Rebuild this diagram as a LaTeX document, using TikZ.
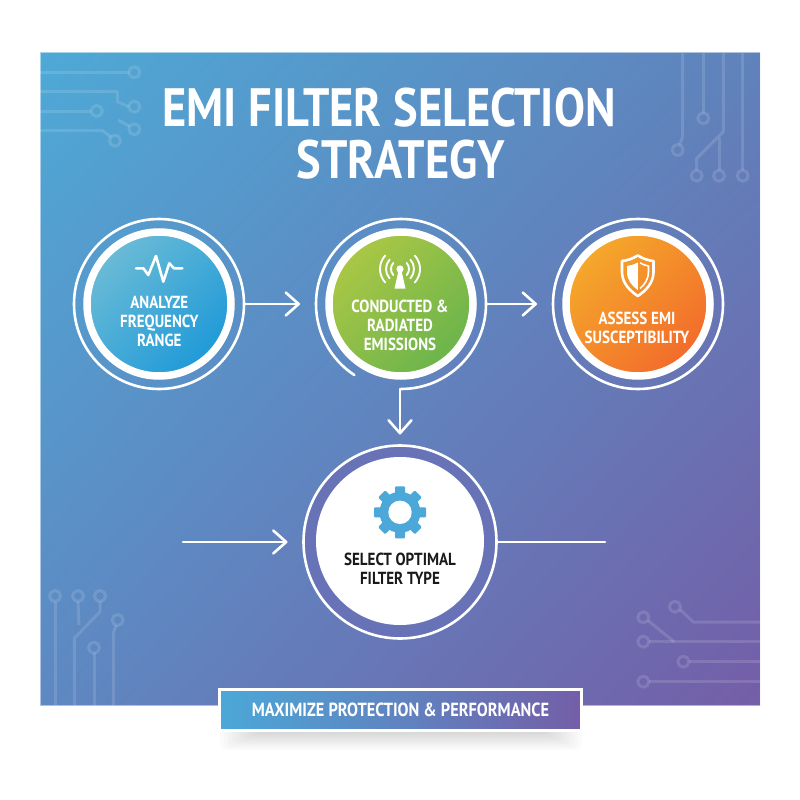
\documentclass[tikz,border=0pt]{standalone}
\usepackage{fontspec}
\setmainfont{PT Sans}[FakeStretch=0.86]
\usepackage{tikz}
\usetikzlibrary{arrows.meta, positioning, calc, shadings}
\definecolor{panelTL}{RGB}{78, 169, 214}
\definecolor{panelTR}{RGB}{96, 130, 187}
\definecolor{panelBL}{RGB}{94, 136, 193}
\definecolor{panelBR}{RGB}{116, 94, 168}
\definecolor{bandblue}{RGB}{103, 115, 182}
\definecolor{gearblue}{RGB}{75, 168, 216}
\definecolor{skylight}{RGB}{107, 187, 214}
\definecolor{skydeep}{RGB}{31, 154, 216}
\definecolor{greenlight}{RGB}{171, 199, 69}
\definecolor{greendeep}{RGB}{107, 180, 76}
\definecolor{orangelight}{RGB}{245, 169, 43}
\definecolor{orangedeep}{RGB}{242, 107, 43}
\tikzset{
  ringnode/.style={circle, inner sep=0pt, outer sep=0pt, minimum size=170pt, draw=white, line width=2.6pt},
  disknode/.style={circle, inner sep=0pt, outer sep=0pt, minimum size=144pt, draw=white, line width=7.5pt},
  steplabel/.style={align=center, text=white, font=\bfseries\fontsize{17.5}{19}\selectfont},
  flowline/.style={draw=white, line width=2.6pt, line cap=round},
  flowarrow/.style={flowline, -{Straight Barb[length=13pt, width=23pt, round]}},
  trace/.style={draw=white, draw opacity=0.13, line width=3pt, line join=round},
}

\begin{document}
\begin{tikzpicture}[x=1pt, y=-1pt]
  \useasboundingbox (0,0) rectangle (800,800);
  \fill[white] (0,0) rectangle (800,800);

  % Panel
  \shade[upper left=panelTL, upper right=panelTR, lower left=panelBL, lower right=panelBR]
    (40,53) rectangle (760,705);
  \draw[white, opacity=0.5, line width=1pt] (40,53) rectangle (760,705);

  % Traces, top left
  \draw[trace] (40,72.3) -- (128.8,72.3);
  \draw[trace] (134.3,72.3) circle[radius=5.5pt];
  \draw[trace] (40,91.7) -- (117.3,91.7) -- (117.3,101.7) -- (128.8,106.7);
  \draw[trace] (134.3,106.7) circle[radius=5.5pt];
  \draw[trace] (40,111) -- (91.2,111);
  \draw[trace] (96.7,111) circle[radius=5.5pt];
  \draw[trace] (40,130.7) -- (102.7,130.7) -- (111,137);
  \draw[trace] (115,140.7) circle[radius=5.5pt];
  \draw[trace] (118.3,120) -- (129.5,126.5);
  \draw[trace] (134.3,129.3) circle[radius=5.5pt];

  % Traces, top right
  \draw[trace] (682.7,53) -- (682.7,136.7) -- (679.5,144.7);
  \draw[trace] (677.7,150) circle[radius=5.5pt];
  \draw[trace] (703.3,53) -- (703.3,112.8);
  \draw[trace] (703.3,118.3) circle[radius=5.5pt];
  \draw[trace] (723.3,53) -- (723.3,131.7) -- (696.7,158.3) -- (696.7,170.2);
  \draw[trace] (696.7,175.7) circle[radius=5.5pt];
  \draw[trace] (719,138) -- (719,170.2);
  \draw[trace] (719,175.7) circle[radius=5.5pt];
  \draw[trace] (742.7,53) -- (742.7,170.2);
  \draw[trace] (742.7,175.7) circle[radius=5.5pt];

  % Traces, bottom left
  \draw[trace] (55,596) circle[radius=5.5pt];
  \draw[trace] (55,601.5) -- (55,705);
  \draw[trace] (78,596) circle[radius=5.5pt];
  \draw[trace] (78,601.5) -- (79,625);
  \draw[trace] (100,596) circle[radius=5.5pt];
  \draw[trace] (100,601.5) -- (100,611.7) -- (74.3,638.3) -- (74.3,705);
  \draw[trace] (117.7,620) circle[radius=5.5pt];
  \draw[trace] (116,625.3) -- (113.3,633.3) -- (113.3,705);
  \draw[trace] (94,647.7) circle[radius=5.5pt];
  \draw[trace] (94,653.2) -- (94,705);

  % Traces, bottom right
  \draw[trace] (675,606.7) circle[radius=5.5pt];
  \draw[trace] (680,609.5) -- (693.3,622) -- (760,622);
  \draw[trace] (643.3,617.3) circle[radius=5.5pt];
  \draw[trace] (648,620.5) -- (674,641.7);
  \draw[trace] (643.3,641.7) circle[radius=5.5pt];
  \draw[trace] (648.8,641.7) -- (760,641.7);
  \draw[trace] (683.3,661.7) circle[radius=5.5pt];
  \draw[trace] (688.8,661.7) -- (760,661.7);
  \draw[trace] (643.3,681.7) circle[radius=5.5pt];
  \draw[trace] (648.8,681.7) -- (760,681.7);

  % Title
  \node[text=white, font=\bfseries\fontsize{54}{54}\selectfont, anchor=base] (titleone) at (389,126) {EMI FILTER SELECTION};
  \node[text=white, font=\bfseries\fontsize{54}{54}\selectfont, anchor=base] (titletwo) at (401,178) {STRATEGY};

  % Rings
  \node[ringnode] (analyzering) at (159,304) {};
  \node[ringnode, draw=none] (conductedring) at (401,304) {};
  \node[ringnode] (assessring) at (638,304) {};
  \node[ringnode, minimum size=193pt, fill=bandblue] (selectring) at (400,542) {};
  \draw[flowline] (conductedring.south) arc[start angle=-90, end angle=236.7, radius=85pt];

  % Disks
  \node[disknode, top color=skylight, bottom color=skydeep, shading angle=45] (analyze) at (analyzering) {};
  \node[disknode, top color=greenlight, bottom color=greendeep, shading angle=45] (conducted) at (conductedring) {};
  \node[disknode, top color=orangelight, bottom color=orangedeep, shading angle=45] (assess) at (assessring) {};
  \node[circle, inner sep=0pt, outer sep=0pt, minimum size=168pt, fill=white] (select) at (400,541) {};

  % Labels inside
  \node[steplabel] (analyzetext) at (159.3,321) {ANALYZE\\FREQUENCY\\RANGE};
  \node[steplabel] (conductedtext) at (400,325.5) {CONDUCTED \&\\RADIATED\\EMISSIONS};
  \node[steplabel] (assesstext) at (637,328) {ASSESS EMI\\SUSCEPTIBILITY};
  \node[steplabel, text=black!90] (selecttext) at (400,569) {SELECT OPTIMAL\\FILTER TYPE};

  % Pulse icon
  \draw[flowline, line join=round] (136,268.3) -- (143.3,268.3) -- (148.3,275) -- (156,256) -- (163.3,281.7) -- (169.3,263.3) -- (174,268.3) -- (182.3,268.3);

  % Antenna icon
  \coordinate (tower) at (400,269);
  \fill[white] (tower) circle[radius=3.6pt];
  \fill[white] (398.2,272) -- (394.5,288.5) -- (405.5,288.5) -- (401.8,272) -- cycle;
  \foreach \r in {9,14,20}{
    \draw[flowline, line width=1.9pt] (tower) ++(42:\r pt) arc[start angle=42, end angle=-42, radius=\r pt];
    \draw[flowline, line width=1.9pt] (tower) ++(138:\r pt) arc[start angle=138, end angle=222, radius=\r pt];
  }

  % Shield icon
  \draw[flowline, line join=round] (637.8,255.5) .. controls (632,259) and (627,260.5) .. (622,261) -- (622,272) .. controls (622,283) and (630,291) .. (637.8,296) .. controls (645.5,291) and (653.5,283) .. (653.5,272) -- (653.5,261) .. controls (648.5,260.5) and (643.5,259) .. cycle;
  \fill[white] (637.8,262.5) .. controls (634,264.5) and (630.5,265.5) .. (627,266) -- (627,272) .. controls (627,280) and (632,286) .. (637.8,290) -- cycle;
  \draw[white, line width=1.6pt, line join=round] (640,262.8) .. controls (642.5,264.5) and (645.5,265.5) .. (648.5,266) -- (648.5,272) .. controls (648.5,279) and (644.5,285) .. (640,288.5);

  % Gear icon
  \foreach \a in {0,45,90,135}{
    \fill[gearblue, rotate around={\a:(400,512.3)}, rounded corners=1pt] (395,486.3) rectangle (405,538.3);
  }
  \fill[gearblue] (400,512.3) circle[radius=20.5pt];
  \fill[white] (400,512.3) circle[radius=11.7pt];

  % Connectors
  \coordinate (inflow) at (183,542);
  \coordinate (outflow) at (605,542);
  \draw[flowarrow, shorten >=16pt] (analyzering.east) -- (conductedring.west);
  \draw[flowarrow, shorten >=16pt] (conductedring.east) -- (assessring.west);
  \draw[flowarrow, shorten >=11pt] (conductedring.south -| selectring.north) -- (selectring.north);
  \draw[flowarrow, shorten >=16pt] (inflow) -- (selectring.west);
  \draw[flowline] (selectring.east) -- (outflow);

  % Banner
  \foreach \k in {0,...,11}{
    \fill[black, opacity=0.017, rounded corners=6pt] (220+4*\k,722) rectangle (582-4*\k,750-1.9*\k);
  }
  \node[draw=white, line width=3pt, outer sep=0pt, inner sep=0pt, minimum width=362pt, minimum height=41pt, left color=gearblue, right color=panelBR, text=white, font=\bfseries\fontsize{19}{19}\selectfont] (banner) at (400.5,709.7) {MAXIMIZE PROTECTION \& PERFORMANCE};
\end{tikzpicture}
\end{document}
